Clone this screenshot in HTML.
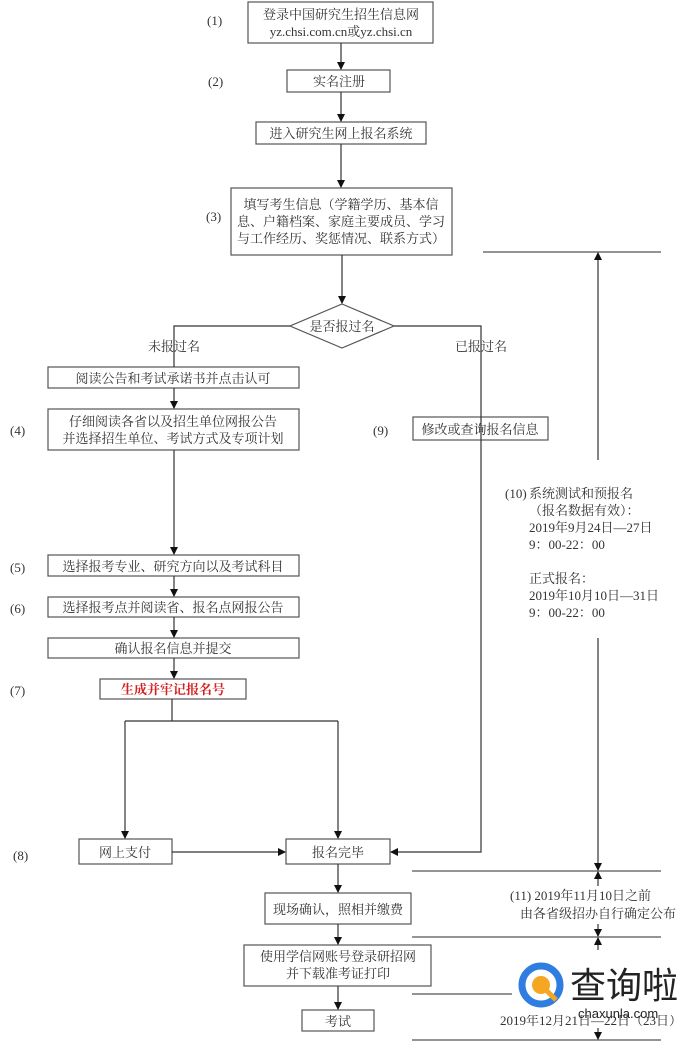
<!DOCTYPE html>
<html><head><meta charset="utf-8"><style>
html,body{margin:0;padding:0;background:#fff;}
svg{display:block;}
text{font-family:"Liberation Serif","Noto Serif CJK SC","Noto Sans CJK SC",serif;font-size:13px;fill:#333;}
.c{text-anchor:middle;}
</style></head><body>
<svg width="692" height="1042" viewBox="0 0 692 1042" xmlns="http://www.w3.org/2000/svg">
<defs><marker id="a" markerWidth="8" markerHeight="8" refX="7" refY="4" orient="auto" markerUnits="userSpaceOnUse"><path d="M0,0 L8,4 L0,8 z" fill="#111"/></marker></defs>
<g fill="#fff" stroke="#555" stroke-width="1.2">
<rect x="248" y="2" width="185" height="41"/>
<rect x="287" y="70" width="103" height="22"/>
<rect x="256" y="122" width="170" height="22"/>
<rect x="231" y="188" width="221" height="67"/>
<polygon points="342,304 394,326 342,348 290,326"/>
<rect x="48" y="367" width="251" height="21"/>
<rect x="48" y="409" width="251" height="41"/>
<rect x="413" y="417" width="135" height="23"/>
<rect x="48" y="555" width="251" height="21"/>
<rect x="48" y="597" width="251" height="20"/>
<rect x="48" y="638" width="251" height="20"/>
<rect x="100" y="679" width="146" height="20"/>
<rect x="79" y="839" width="93" height="25"/>
<rect x="286" y="839" width="104" height="25"/>
<rect x="265" y="893" width="146" height="31"/>
<rect x="244" y="945" width="187" height="41"/>
<rect x="302" y="1010" width="72" height="21"/>
</g>
<g stroke="#333" stroke-width="1.2" fill="none">
<line x1="341" y1="43" x2="341" y2="69" marker-end="url(#a)"/>
<line x1="341" y1="92" x2="341" y2="121" marker-end="url(#a)"/>
<line x1="341" y1="144" x2="341" y2="187" marker-end="url(#a)"/>
<line x1="342" y1="255" x2="342" y2="303" marker-end="url(#a)"/>
<polyline points="290,326 174,326 174,367"/>
<polyline points="394,326 481,326 481,852 391,852" marker-end="url(#a)"/>
<line x1="174" y1="388" x2="174" y2="408" marker-end="url(#a)"/>
<line x1="174" y1="450" x2="174" y2="554" marker-end="url(#a)"/>
<line x1="174" y1="576" x2="174" y2="596" marker-end="url(#a)"/>
<line x1="174" y1="617" x2="174" y2="637" marker-end="url(#a)"/>
<line x1="174" y1="658" x2="174" y2="678" marker-end="url(#a)"/>
<polyline points="172,699 172,721"/>
<polyline points="125,721 338,721"/>
<line x1="125" y1="721" x2="125" y2="838" marker-end="url(#a)"/>
<line x1="338" y1="721" x2="338" y2="838" marker-end="url(#a)"/>
<line x1="172" y1="852" x2="285" y2="852" marker-end="url(#a)"/>
<line x1="338" y1="864" x2="338" y2="892" marker-end="url(#a)"/>
<line x1="338" y1="924" x2="338" y2="944" marker-end="url(#a)"/>
<line x1="338" y1="986" x2="338" y2="1009" marker-end="url(#a)"/>
<line x1="483" y1="252" x2="661" y2="252" stroke="#555"/>
<line x1="598" y1="460" x2="598" y2="253" marker-end="url(#a)"/>
<line x1="598" y1="638" x2="598" y2="870" marker-end="url(#a)"/>
<line x1="412" y1="871" x2="661" y2="871" stroke="#555"/>
<line x1="412" y1="937" x2="661" y2="937" stroke="#555"/>
<line x1="412" y1="994" x2="661" y2="994" stroke="#555"/>
<line x1="412" y1="1040" x2="661" y2="1040" stroke="#555"/>
<line x1="598" y1="886" x2="598" y2="872" marker-end="url(#a)"/>
<line x1="598" y1="924" x2="598" y2="936" marker-end="url(#a)"/>
<line x1="598" y1="950" x2="598" y2="938" marker-end="url(#a)"/>
<line x1="598" y1="1028" x2="598" y2="1039" marker-end="url(#a)"/>
</g>
<text x="207" y="25">(1)</text>
<text x="208" y="86">(2)</text>
<text x="206" y="221">(3)</text>
<text x="10" y="435">(4)</text>
<text x="373" y="435">(9)</text>
<text x="10" y="572">(5)</text>
<text x="10" y="613">(6)</text>
<text x="10" y="695">(7)</text>
<text x="13" y="860">(8)</text>
<text class="c" x="341" y="19">登录中国研究生招生信息网</text>
<text class="c" x="341" y="36">yz.chsi.com.cn或yz.chsi.cn</text>
<text class="c" x="339" y="86">实名注册</text>
<text class="c" x="341" y="138">进入研究生网上报名系统</text>
<text class="c" x="341" y="209">填写考生信息（学籍学历、基本信</text>
<text class="c" x="341" y="226">息、户籍档案、家庭主要成员、学习</text>
<text class="c" x="341" y="243">与工作经历、奖惩情况、联系方式）</text>
<text class="c" x="342" y="331">是否报过名</text>
<text class="c" x="174" y="351">未报过名</text>
<text class="c" x="481" y="351">已报过名</text>
<text class="c" x="173" y="383">阅读公告和考试承诺书并点击认可</text>
<text class="c" x="173" y="426">仔细阅读各省以及招生单位网报公告</text>
<text class="c" x="173" y="443">并选择招生单位、考试方式及专项计划</text>
<text class="c" x="480" y="434">修改或查询报名信息</text>
<text class="c" x="173" y="571">选择报考专业、研究方向以及考试科目</text>
<text class="c" x="173" y="612">选择报考点并阅读省、报名点网报公告</text>
<text class="c" x="173" y="653">确认报名信息并提交</text>
<text class="c" x="173" y="694" style="fill:#d42020;font-weight:bold">生成并牢记报名号</text>
<text class="c" x="125" y="857">网上支付</text>
<text class="c" x="338" y="857">报名完毕</text>
<text class="c" x="338" y="914">现场确认，照相并缴费</text>
<text class="c" x="338" y="961">使用学信网账号登录研招网</text>
<text class="c" x="338" y="978">并下载准考证打印</text>
<text class="c" x="338" y="1026">考试</text>
<text x="505" y="498">(10)</text>
<text x="529" y="498">系统测试和预报名</text>
<text x="529" y="515">（报名数据有效）：</text>
<text x="529" y="532">2019年9月24日—27日</text>
<text x="529" y="549">9：00-22：00</text>
<text x="529" y="583">正式报名：</text>
<text x="529" y="600">2019年10月10日—31日</text>
<text x="529" y="617">9：00-22：00</text>
<text x="510" y="900">(11)  2019年11月10日之前</text>
<text x="520" y="918">由各省级招办自行确定公布</text>
<text x="500" y="1025">2019年12月21日—22日（23日）</text>
<rect x="512" y="960" width="170" height="55" fill="#fff"/>
<circle cx="541" cy="985" r="19" fill="none" stroke="#2f7de1" stroke-width="7"/>
<circle cx="541" cy="985" r="9" fill="#f5a623"/>
<line x1="547" y1="991" x2="556" y2="1000" stroke="#f5a623" stroke-width="5"/>
<text x="570" y="998" style="font-family:'Noto Sans CJK SC',sans-serif;font-size:36px;fill:#222">查询啦</text>
<text x="578" y="1018" style="font-family:'Liberation Sans',sans-serif;font-size:13px;fill:#222">chaxunla.com</text>
</svg>
</body></html>
